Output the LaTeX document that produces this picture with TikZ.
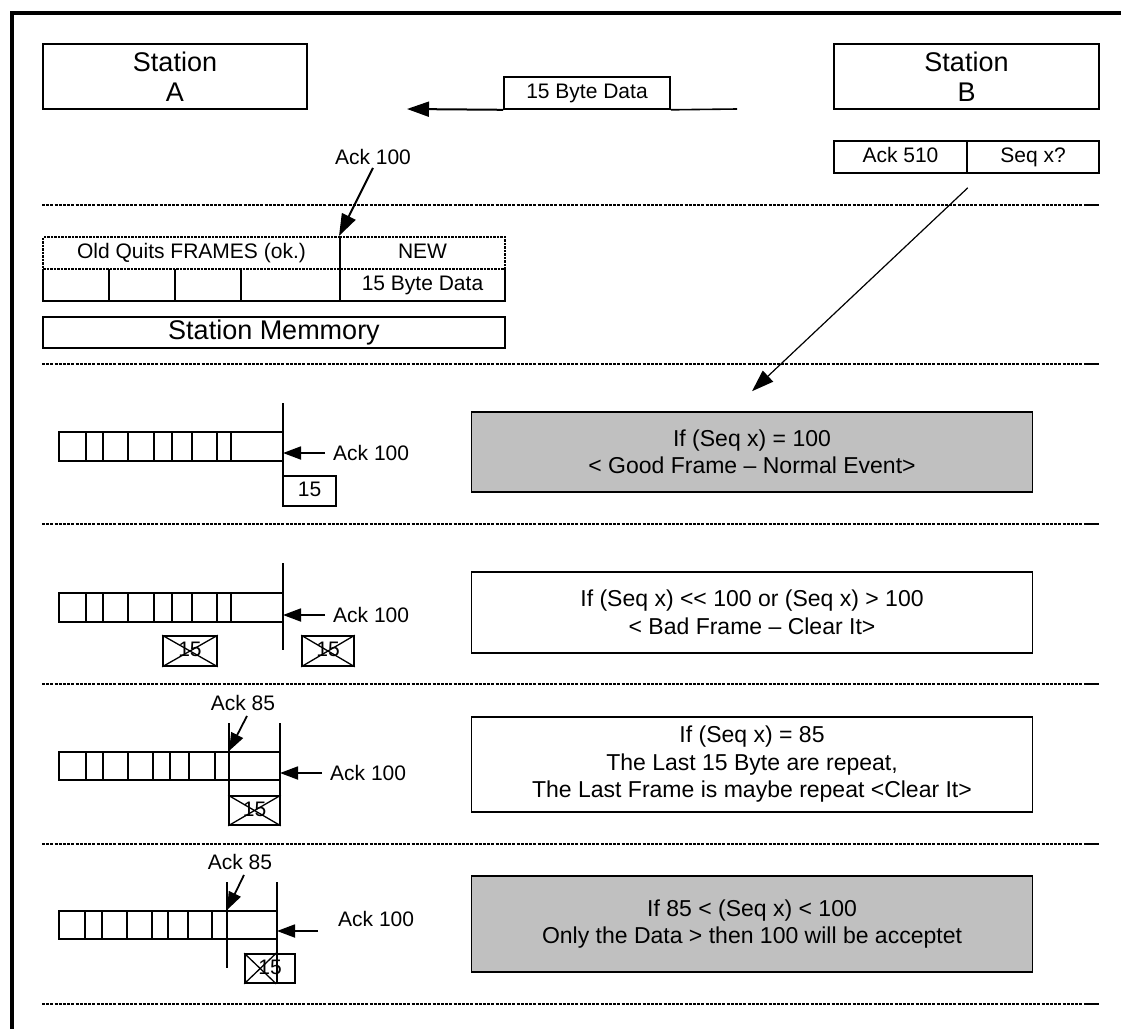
\documentclass[tikz,border=0pt]{standalone}
\usepackage{fontspec}
\setmainfont{Liberation Sans}
\usetikzlibrary{arrows.meta,positioning,calc}
\definecolor{BoxGray}{RGB}{192,192,192}

\begin{document}
\begin{tikzpicture}[
      x=1pt,y=-1pt,
      box/.style={draw,line width=1.6pt,inner sep=0pt,font=\fontsize{21}{25}\selectfont},
      oneLine/.style={box,text height=15pt,text depth=4pt},
      bigBox/.style={box,font=\fontsize{27}{30}\selectfont,align=center},
      ifBox/.style={box,minimum width=561pt,align=center,font=\fontsize{23}{27.5}\selectfont},
      xBox/.style={oneLine,minimum height=30pt},
      memDash/.style={draw,line width=2pt,dash pattern=on 2.5pt off 1pt,inner sep=0pt,
                      minimum height=32pt,text height=15pt,text depth=4pt,
                      font=\fontsize{21}{25}\selectfont},
      lbl/.style={inner sep=2pt,font=\fontsize{21}{25}\selectfont},
      sep/.style={line width=2pt,dash pattern=on 3pt off 1.2pt},
      cell/.style={line width=1.6pt},
      cross/.style={line width=1.3pt},
      ar/.style={-{Triangle[length=22pt,width=15pt]},line width=2pt},
      sar/.style={-{Triangle[length=18pt,width=13pt]},line width=1.8pt}
    ]
    \useasboundingbox (0,0) rectangle (1121,1028);

    % Outer frame (cut at right and bottom)
    \draw[line width=4.5pt] (12,1040) -- (12,13) -- (1130,13);

    % Separators
    \foreach \y in {205,364,524,684,844,1004} {
      \draw[sep] (42,\y) -- (1085,\y);
      \draw[line width=2pt] (1085,\y) -- (1099,\y);
    }

    % Stations and the frame on the wire
    \node(staA)[bigBox,minimum width=264pt,minimum height=65pt] at (175,76.5) {Station\\A};
    \node(staB)[bigBox,minimum width=265pt,minimum height=65pt] at (966.5,76.5) {Station\\B};
    \node(data)[oneLine,minimum width=166pt,minimum height=32pt] at (587,93) {15 Byte Data};
    \coordinate (dA) at (407,109);
    \coordinate (dB) at (737,109);
    \draw[cell] (dB) -- (data.south east);
    \draw[ar] (data.south west) -- (dA);

    \node(ack)[oneLine,minimum width=133pt,minimum height=32pt] at (900.5,157) {Ack 510};
    \node(seq)[oneLine,minimum width=132pt,minimum height=32pt] at (1033,157) {Seq x?};

    % Station memory
    \draw[cell] (43,269) -- (43,301) -- (505,301) -- (505,269);
    \foreach \x in {109,175,241,340} \draw[cell] (\x,269) -- (\x,301);
    \node(data2)[lbl,text height=15pt,text depth=4pt] at (422.5,285) {15 Byte Data};
    \node(old)[memDash,minimum width=297pt] at (191.5,253) {Old Quits FRAMES (ok.)};
    \node(new)[memDash,minimum width=165pt] at (422.5,253) {NEW};
    \node(mem)[bigBox,minimum width=462pt,minimum height=31pt] at (274,332.5) {Station Memmory};

    \node(t100)[lbl] at (373,157) {Ack 100};
    \draw[ar] ([yshift=-1pt]t100.south) -- (new.north west);

    % Decision boxes
    \node(g1)[ifBox,fill=BoxGray,minimum height=80pt] at (752,452)
      {If (Seq x) = 100\\< Good Frame -- Normal Event>};
    \node(g2)[ifBox,minimum height=81pt] at (752,612.5)
      {If (Seq x) <{}< 100 or (Seq x) > 100\\< Bad Frame -- Clear It>};
    \node(g3)[ifBox,minimum height=95pt] at (752,764.5)
      {If (Seq x) = 85\\The Last 15 Byte are repeat,\\The Last Frame is maybe repeat <Clear It>};
    \node(g4)[ifBox,fill=BoxGray,minimum height=96pt] at (752,924)
      {If 85 < (Seq x) < 100\\Only the Data > then 100 will be acceptet};

    \draw[-{Triangle[length=22pt,width=15pt]},line width=1.2pt]
      ([yshift=-14pt]ack.south east) -- ([yshift=20pt]g1.north);

    % Row 1: good frame
    \draw[cell] (59,432) rectangle (283,461);
    \foreach \x in {86,103,128,154,172,192,217,231} \draw[cell] (\x,432) -- (\x,461);
    \draw[cell] (283,403) -- (283,490);
    \coordinate (r1p) at (283,453);
    \node(r1l)[lbl,anchor=west,inner xsep=8pt] at (325,453) {Ack 100};
    \draw[sar] (r1l.west) -- (r1p);
    \node(r1d)[xBox,minimum width=53pt] at (309.5,491) {15};

    % Row 2: bad frame
    \draw[cell] (59,593) rectangle (283,622);
    \foreach \x in {86,103,128,154,172,192,217,231} \draw[cell] (\x,593) -- (\x,622);
    \draw[cell] (283,563) -- (283,650);
    \coordinate (r2p) at (283,615);
    \node(r2l)[lbl,anchor=west,inner xsep=8pt] at (325,615) {Ack 100};
    \draw[sar] (r2l.west) -- (r2p);
    \node(r2a)[xBox,minimum width=54pt] at (190,651) {15};
    \node(r2b)[xBox,minimum width=52pt] at (328,651) {15};
    \draw[cross] (r2a.north west) -- (r2a.south east) (r2a.south west) -- (r2a.north east);
    \draw[cross] (r2b.north west) -- (r2b.south east) (r2b.south west) -- (r2b.north east);

    % Row 3: repeated frame
    \draw[cell] (59,752) rectangle (280,780);
    \foreach \x in {86,103,128,153,170,189,215,229} \draw[cell] (\x,752) -- (\x,780);
    \draw[cell] (229,723) -- (229,825);
    \draw[cell] (280,723) -- (280,825);
    \node(r3k)[lbl] at (243,703) {Ack 85};
    \coordinate (r3q) at (229,751);
    \draw[sar] ([xshift=4pt,yshift=-3pt]r3k.south) -- (r3q);
    \coordinate (r3p) at (280,773);
    \node(r3l)[lbl,anchor=west,inner xsep=8pt] at (322,773) {Ack 100};
    \draw[sar] (r3l.west) -- (r3p);
    \node(r3d)[xBox,minimum width=51pt,minimum height=29pt] at (254.5,810.5) {15};
    \draw[cross] (r3d.north west) -- (r3d.south east) (r3d.south west) -- (r3d.north east);

    % Row 4: partly new frame
    \draw[cell] (59,911) rectangle (277,939);
    \foreach \x in {85,102,127,152,168,188,212,227} \draw[cell] (\x,911) -- (\x,939);
    \draw[cell] (227,882) -- (227,968);
    \draw[cell] (277,882) -- (277,983);
    \node(r4k)[lbl] at (240,862) {Ack 85};
    \coordinate (r4q) at (227,910);
    \draw[sar] ([xshift=4pt,yshift=-3pt]r4k.south) -- (r4q);
    \coordinate (r4t) at (318,931);
    \coordinate (r4p) at (277,931);
    \node(r4l)[lbl,anchor=west] at (336,919) {Ack 100};
    \draw[sar] (r4t) -- (r4p);
    \node(r4d)[xBox,minimum width=50pt,minimum height=29pt] at (270,968.5) {15};
    \draw[cross] (r4d.north west) -- ($(r4d.south west)+(32,0)$)
          (r4d.south west) -- ($(r4d.north west)+(32,0)$);
  \end{tikzpicture}
\end{document}
